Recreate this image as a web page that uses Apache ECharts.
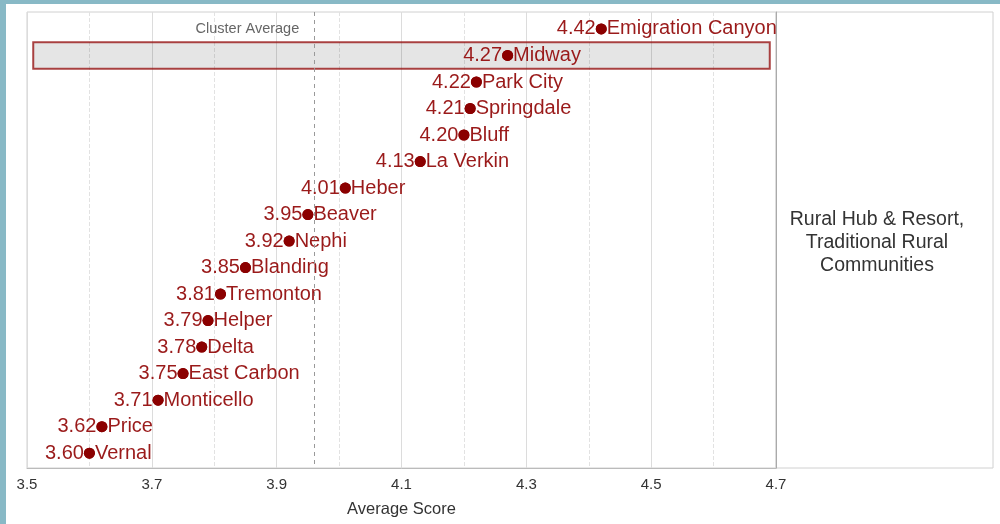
<!DOCTYPE html>
<html>
<head>
<meta charset="utf-8">
<script src="https://cdn.jsdelivr.net/npm/echarts@6/dist/echarts.min.js"></script>
<style>
  html, body { margin: 0; padding: 0; }
  body { width: 1000px; height: 524px; background: #88b9c6; position: relative; overflow: hidden; }
  #main { position: absolute; left: 6px; top: 4px; width: 994px; height: 520px; background: #fff; }
</style>
</head>
<body>
<div id="main"></div>
<script>
// communities, top to bottom
const places = ["Emigration Canyon", "Midway", "Park City", "Springdale", "Bluff", "La Verkin",
  "Heber", "Beaver", "Nephi", "Blanding", "Tremonton", "Helper", "Delta", "East Carbon",
  "Monticello", "Price", "Vernal"];
const scores = [4.42, 4.27, 4.22, 4.21, 4.20, 4.13, 4.01, 3.95, 3.92, 3.85, 3.81, 3.79, 3.78,
  3.75, 3.71, 3.62, 3.60];
const clusterAvg = 3.957;
const highlighted = "Midway";
const xTicks = [3.5, 3.7, 3.9, 4.1, 4.3, 4.5, 4.7];
const facetLabel = "Rural Hub & Resort,\nTraditional Rural\nCommunities";

const red = "#8b0000";
const textRed = "#9a1a1a";
const font = "Liberation Sans, Arial, sans-serif";
const pts = scores.map((s, i) => [s, i]);
const hi = places.indexOf(highlighted);

const chart = echarts.init(document.getElementById("main"));
const option = {
  animation: false,
  textStyle: { fontFamily: font },
  grid: [
    { left: 21, top: 8, width: 749, height: 456, show: true, borderColor: "#d0d0d0", borderWidth: 1 },
    { left: 770, top: 8, width: 217, height: 456, show: true, borderColor: "#d0d0d0", borderWidth: 1 }
  ],
  xAxis: [
    {
      gridIndex: 0, type: "value", min: xTicks[0], max: xTicks[xTicks.length - 1], interval: 0.2,
      name: "Average Score", nameLocation: "middle", nameGap: 33,
      nameTextStyle: { fontSize: 16.5, color: "#333" },
      axisLine: { show: true, onZero: false, lineStyle: { color: "#bbb" } },
      axisTick: { show: false },
      axisLabel: { fontSize: 15, color: "#333", margin: 9, formatter: v => v.toFixed(1) },
      splitLine: { show: true, lineStyle: { color: "#dcdcdc", width: 1 } },
      minorTick: { show: false, splitNumber: 2 },
      minorSplitLine: { show: true, lineStyle: { color: "#e2e2e2", type: "dashed", width: 1 } }
    },
    { gridIndex: 1, type: "value", show: false, min: 0, max: 1 }
  ],
  yAxis: [
    { gridIndex: 0, type: "value", inverse: true, min: -0.64, max: 16.56, show: false, splitLine: { show: false } },
    {
      gridIndex: 1, type: "value", min: 0, max: 1, position: "left",
      axisLine: { show: true, onZero: false, lineStyle: { color: "#aaa" } },
      axisTick: { show: false }, axisLabel: { show: false }, splitLine: { show: false }
    }
  ],
  series: [
    {
      type: "scatter",
      data: pts,
      symbolSize: 11,
      itemStyle: { color: red, opacity: 1 },
      label: {
        show: true, position: "left", distance: 0, fontSize: 20, color: textRed,
        formatter: p => p.value[0].toFixed(2)
      },
      markArea: {
        silent: true,
        itemStyle: { color: "rgba(0,0,0,0.1)", borderColor: "rgba(150,20,20,0.8)", borderWidth: 2 },
        data: [[{ xAxis: 3.51, yAxis: hi - 0.5 }, { xAxis: 4.69, yAxis: hi + 0.5 }]]
      },
      markLine: {
        silent: true, symbol: "none",
        lineStyle: { color: "#999", type: [4, 4], width: 1 },
        label: { show: false },
        data: [{ xAxis: clusterAvg }]
      },
      markPoint: {
        silent: true, symbol: "circle", symbolSize: 0,
        label: { show: true, position: "left", distance: 13, fontSize: 14.5, color: "#666", formatter: "Cluster Average" },
        data: [{ coord: [clusterAvg, 0] }]
      },
      z: 3
    },
    {
      type: "scatter",
      data: pts,
      symbolSize: 11,
      itemStyle: { color: red, opacity: 1 },
      label: {
        show: true, position: "right", distance: 0, fontSize: 20, color: textRed,
        formatter: p => places[p.value[1]]
      },
      z: 3
    }
  ],
  graphic: [
    {
      type: "text", x: 877 - 6, y: 243 - 4,
      style: {
        text: facetLabel, fill: "#333", fontSize: 19.5, lineHeight: 23,
        fontFamily: font, textAlign: "center", textVerticalAlign: "middle"
      }
    }
  ]
};
chart.setOption(option);
</script>
</body>
</html>
